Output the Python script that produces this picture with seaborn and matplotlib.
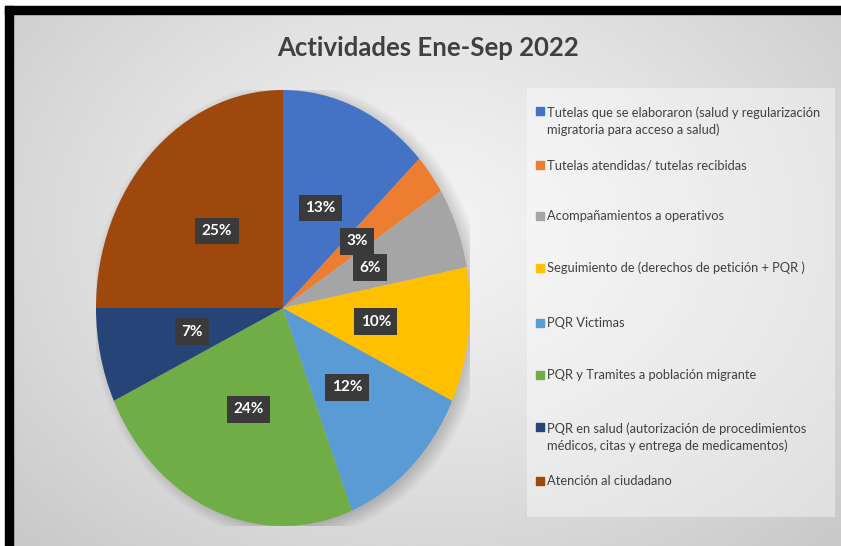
import numpy as np
import matplotlib
matplotlib.use("Agg")
import matplotlib.pyplot as plt
from matplotlib.patches import Rectangle, Ellipse
import seaborn as sns

# chart data
categories = [
    "Tutelas que se elaboraron (salud y regularización\nmigratoria para acceso a salud)",
    "Tutelas atendidas/ tutelas recibidas",
    "Acompañamientos a operativos",
    "Seguimiento de (derechos de petición + PQR )",
    "PQR Victimas",
    "PQR y Tramites a población migrante",
    "PQR en salud (autorización de procedimientos\nmédicos, citas y entrega de medicamentos)",
    "Atención al ciudadano",
]
percentages = [13, 3, 6, 10, 12, 24, 7, 25]
title = "Actividades Ene-Sep 2022"

palette = sns.color_palette(["#4472C4", "#ED7D31", "#A5A5A5", "#FFC000",
                             "#5B9BD5", "#70AD47", "#264478", "#9E480E"])

sns.set_style("white")
plt.rcParams['font.family'] = ['Lato', 'DejaVu Sans']

W, H = 841, 546
fig = plt.figure(figsize=(W / 100, H / 100), dpi=100)
fig.patch.set_facecolor("white")

# black frame on the top and left
fig.patches.append(Rectangle((5 / W, 0), 8 / W, (H - 6) / H, transform=fig.transFigure,
                             color="black", zorder=0))
fig.patches.append(Rectangle((5 / W, (H - 14) / H), 1, 8 / H, transform=fig.transFigure,
                             color="black", zorder=0))

# gradient background
bg = fig.add_axes([13 / W, 0, 1 - 13 / W, (H - 14) / H])
gx, gy = np.meshgrid(np.linspace(0, 1, 400), np.linspace(0, 1, 300))
d = np.sqrt(((gx - 0.5) / 0.5) ** 2 + ((gy - 0.4) / 0.6) ** 2) / np.sqrt(2)
grad = 0.955 - 0.17 * np.clip(d, 0, 1) ** 1.2
bg.imshow(grad, cmap="gray", vmin=0, vmax=1, aspect="auto", interpolation="bicubic")
bg.set_axis_off()

# pie (stretched to an ellipse like the original)
ax = fig.add_axes([96 / W, 20 / H, 374 / W, 436 / H])
ax.patch.set_alpha(0)
# soft shadow
for k in range(14):
    ax.add_patch(Ellipse((0.03, -0.015), 1.96 + 0.012 * k, 1.97 + 0.01 * k,
                         color="black", alpha=0.012, lw=0, zorder=0))
wedges, texts, autotexts = ax.pie(
    percentages, colors=palette, startangle=90, counterclock=False,
    autopct="%1.0f%%", pctdistance=0.5, wedgeprops=dict(linewidth=0),
    textprops=dict(color="white", fontsize=11, fontweight="bold"))
for t in autotexts:
    t.set_bbox(dict(boxstyle="square,pad=0.42", fc="#3a3a3a", ec="none"))
ax.set_aspect("auto")
ax.set_xlim(-1, 1)
ax.set_ylim(-1, 1)

# title
fig.text(428 / W, 1 - 48 / H, title, ha="center", va="center", fontsize=18.5,
         fontweight="bold", color="#404040")

# legend box
fig.patches.append(Rectangle((527 / W, (H - 517) / H), 308 / W, 429 / H,
                             transform=fig.transFigure, fc="white", alpha=0.4,
                             ec="none", zorder=1))
legend_y = [121, 165, 216, 268, 323, 375, 437, 481]
for lab, col, yy in zip(categories, palette, legend_y):
    first_line = yy - 10 if "\n" in lab else yy
    fig.patches.append(Rectangle((536 / W, (H - first_line - 4) / H), 8 / W, 8 / H,
                                 transform=fig.transFigure, color=col, zorder=2))
    fig.text(547 / W, (H - yy) / H, lab, ha="left", va="center", fontsize=9.3,
             color="#404040", linespacing=1.45, zorder=3)

fig.savefig("out.png", dpi=100)
